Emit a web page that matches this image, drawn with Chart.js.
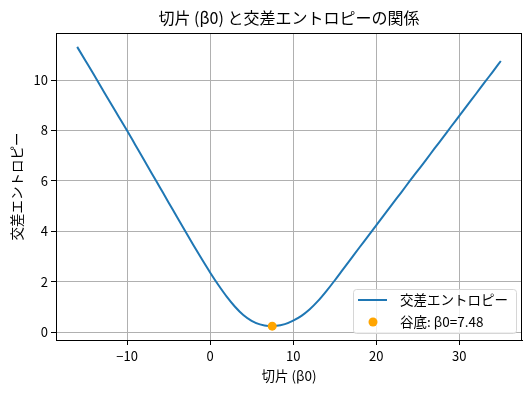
<!DOCTYPE html>
<html lang="ja">
<head>
<meta charset="utf-8">
<script src="https://cdn.jsdelivr.net/npm/chart.js@4.4.1/dist/chart.umd.min.js"></script>
<style>
  html, body { margin: 0; padding: 0; background: #fff; }
  #wrap { width: 531px; height: 393px; }
</style>
</head>
<body>
<div id="wrap"><canvas id="lossChart" width="531" height="393"></canvas></div>
<script>
// Intercept values (beta0) and the cross entropy
const betaValues = [
  -16, -15, -14, -13, -12, -11, -10, -9, -8, -7, -6, -5, -4, -3, -2, -1,
  0, 1, 2, 3, 4, 5, 6, 7, 8, 9, 10, 11, 12, 13, 14, 15, 16, 17, 18, 19,
  20, 21, 22, 23, 24, 25, 26, 27, 28, 29, 30, 31, 32, 33, 34, 35
];
const lossValues = [
  11.32, 10.77, 10.22, 9.66, 9.10, 8.55, 8.00, 7.43, 6.86, 6.29, 5.72, 5.15, 4.58, 4.01, 3.45, 2.90,
  2.37, 1.87, 1.41, 1.01, 0.68, 0.45, 0.31, 0.25, 0.255, 0.32, 0.46, 0.65, 0.91, 1.24, 1.63, 2.05,
  2.49, 2.93, 3.37, 3.80, 4.24, 4.67, 5.11, 5.54, 5.98, 6.41, 6.84, 7.28, 7.71, 8.15, 8.58, 9.02,
  9.45, 9.89, 10.32, 10.76
];

// The valley point
const valleyBeta = [7.48];
const valleyLoss = [0.24];

// Tick labels
const xTicks = [-10, 0, 10, 20, 30];
const yTicks = [0, 2, 4, 6, 8, 10];

const FONT = "'Noto Sans CJK JP', 'DejaVu Sans', sans-serif";
Chart.defaults.font.family = FONT;
Chart.defaults.color = '#000';

// matplotlib style minus sign
function fmt(v) {
  return v < 0 ? '\u2212' + Math.abs(v) : String(v);
}

// Title, frame and legend drawn on top of the chart
const decorations = {
  id: 'decorations',
  afterDatasetsDraw(chart) {
    const ctx = chart.ctx;
    const area = chart.chartArea;
    ctx.save();
    // black frame round the axes
    ctx.strokeStyle = '#000';
    ctx.lineWidth = 1;
    ctx.strokeRect(Math.round(area.left) + 0.5, Math.round(area.top) + 0.5,
      Math.round(area.right - area.left) - 1, Math.round(area.bottom - area.top));
    // title
    ctx.fillStyle = '#000';
    ctx.font = '16px ' + FONT;
    ctx.textAlign = 'center';
    ctx.textBaseline = 'middle';
    ctx.fillText('切片 (β0) と交差エントロピーの関係', (area.left + area.right) / 2, 18);
    ctx.restore();
  },
  afterDraw(chart) {
    const ctx = chart.ctx;
    const area = chart.chartArea;
    const lineSet = chart.data.datasets[0];
    const dotSet = chart.data.datasets[1];
    const w = 163, h = 44;
    const x = area.right - 6 - w;
    const y = area.bottom - 7 - h;
    ctx.save();
    // legend frame
    ctx.fillStyle = 'rgba(255,255,255,0.8)';
    ctx.strokeStyle = '#d6d6d6';
    ctx.lineWidth = 1;
    ctx.beginPath();
    ctx.roundRect(x + 0.5, y + 0.5, w, h, 3);
    ctx.fill();
    ctx.stroke();
    // line entry
    ctx.strokeStyle = lineSet.borderColor;
    ctx.lineWidth = 2;
    ctx.beginPath();
    ctx.moveTo(x + 5, y + 11);
    ctx.lineTo(x + 34, y + 11);
    ctx.stroke();
    // dot entry
    ctx.fillStyle = dotSet.backgroundColor;
    ctx.beginPath();
    ctx.arc(x + 20, y + 33, 4.5, 0, Math.PI * 2);
    ctx.fill();
    // texts
    ctx.fillStyle = '#000';
    ctx.font = '13.5px ' + FONT;
    ctx.textAlign = 'left';
    ctx.textBaseline = 'middle';
    ctx.fillText(lineSet.label, x + 47, y + 11);
    ctx.fillText(dotSet.label, x + 47, y + 33);
    ctx.restore();
  }
};

const ctx = document.getElementById('lossChart').getContext('2d');
new Chart(ctx, {
  type: 'line',
  data: {
    datasets: [
      {
        label: '交差エントロピー',
        data: betaValues.map((b, i) => ({ x: b, y: lossValues[i] })),
        borderColor: '#1f77b4',
        backgroundColor: '#1f77b4',
        borderWidth: 2,
        pointRadius: 0,
        cubicInterpolationMode: 'monotone',
        order: 2
      },
      {
        label: '谷底: β0=' + valleyBeta[0].toFixed(2),
        data: valleyBeta.map((b, i) => ({ x: b, y: valleyLoss[i] })),
        showLine: false,
        borderColor: '#ffa500',
        backgroundColor: '#ffa500',
        pointRadius: 4.5,
        pointBorderWidth: 0,
        order: 1
      }
    ]
  },
  options: {
    responsive: false,
    animation: false,
    devicePixelRatio: 1,
    layout: { padding: { left: 0, right: 9, top: 33, bottom: 0 } },
    plugins: {
      legend: { display: false },
      title: { display: false },
      tooltip: { enabled: false }
    },
    scales: {
      x: {
        type: 'linear',
        min: -18.55,
        max: 37.55,
        afterFit: (scale) => { scale.height = 53; },
        afterBuildTicks: (scale) => { scale.ticks = xTicks.map(v => ({ value: v })); },
        grid: { color: '#b0b0b0', lineWidth: 1, tickColor: '#000', tickLength: 5 },
        border: { display: true, color: '#000', width: 1 },
        ticks: { font: { size: 13 }, padding: 3, maxRotation: 0, callback: (v) => fmt(v) },
        title: { display: true, text: '切片 (β0)', font: { size: 13.5 }, padding: { top: 0, bottom: 9 } }
      },
      y: {
        type: 'linear',
        min: -0.31,
        max: 11.87,
        afterFit: (scale) => { scale.width = 56; },
        afterBuildTicks: (scale) => { scale.ticks = yTicks.map(v => ({ value: v })); },
        grid: { color: '#b0b0b0', lineWidth: 1, tickColor: '#000', tickLength: 5 },
        border: { display: true, color: '#000', width: 1 },
        ticks: { font: { size: 13 }, padding: 3, callback: (v) => fmt(v) },
        title: { display: true, text: '交差エントロピー', font: { size: 13.5 }, padding: { top: 9, bottom: 0 } }
      }
    }
  },
  plugins: [decorations]
});
</script>
</body>
</html>
